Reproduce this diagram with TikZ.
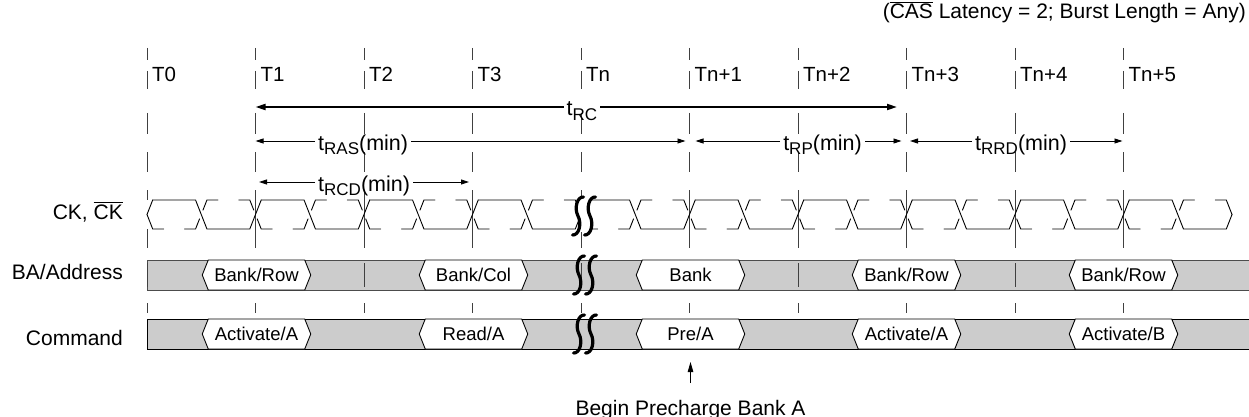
\documentclass[tikz,border=0pt]{standalone}
\usepackage{fontspec}
\setmainfont{Liberation Sans}
\usetikzlibrary{arrows.meta,calc}
\definecolor{barfill}{RGB}{204,204,204}
\newcommand\ovl[1]{\vbox{\hrule height 0.9pt\kern1.6pt\hbox{#1}}}
\newcommand\tsub[1]{t\raisebox{-4.5pt}{\fontsize{17}{17}\selectfont #1}}
\newcommand\sigbox[5]{%
  \filldraw[fill=white,draw=black,line width=0.9pt]
    ({#1-54.25},{(#2+#3)/2}) -- ({#1-48.25},#2) -- ({#1+48.25},#2) --
    ({#1+54.25},{(#2+#3)/2}) -- ({#1+48.25},#3) -- ({#1-48.25},#3) -- cycle;
  \node[boxlabel,anchor=base] (#4) at (#1,{(#2+#3)/2+6.5}) {#5};}
\newcommand\squig[3]{%
  \draw[brk] ({#1+5.5},#2) .. controls ({#1-1},{#2-0.5}) and ({#1-4},{#2+0.3*(#3-#2)}) ..
    (#1,{(#2+#3)/2}) .. controls ({#1+4},{#3-0.3*(#3-#2)}) and ({#1+1},{#3+0.5}) .. ({#1-5.5},#3);}
\begin{document}
\begin{tikzpicture}[x=1pt,y=-1pt,
  tl/.style={draw=black!75,line width=0.8pt},
  ck/.style={line width=0.9pt,line cap=round,line join=round},
  arr/.style={-{Triangle[length=8pt,width=5pt]},line width=0.9pt},
  arrb/.style={-{Triangle[length=10pt,width=6pt]},line width=2pt},
  brk/.style={line width=3.2pt,line cap=round},
  lab/.style={font=\fontsize{21.5}{25}\selectfont,inner xsep=3pt,inner ysep=0pt},
  side/.style={font=\fontsize{21}{25}\selectfont,inner sep=0pt,anchor=base east},
  tlab/.style={font=\fontsize{20.5}{24}\selectfont,inner sep=0pt,anchor=base west},
  boxlabel/.style={font=\fontsize{18.5}{22}\selectfont,inner sep=0pt}]
\useasboundingbox (0,0) rectangle (1249,417);
\foreach \k in {0,...,10} \coordinate (T\k) at ({147+108.5*\k},0);
\coordinate (rRC) at (0,107);
\coordinate (rRAS) at (0,141);
\coordinate (rRCD) at (0,182);

% bars
\filldraw[fill=barfill,draw=black!70,line width=0.9pt] (147,260) rectangle (1253,290);
\filldraw[fill=barfill,draw=black,line width=0.9pt] (147,319) rectangle (1253,349);

% time lines
\foreach \k [evaluate=\k as \xx using 147+108.5*\k] in {0,...,9}{
  \foreach \a/\b in {48/60,71/89,113/134,152/172,263/287,303/313}
    \draw[tl] (\xx,\a) -- (\xx,\b);
}
\foreach \k [evaluate=\k as \xx using 147+108.5*\k] in {1,...,9}
  \draw[tl] (\xx,190) -- (\xx,248);
\draw[tl] (147,190) -- (147,200);
\draw[tl] (147,229) -- (147,248);

% boxes
\sigbox{256.5}{260}{290}{b1}{Bank/Row}
\sigbox{473.5}{260}{290}{b2}{Bank/Col}
\sigbox{690.5}{260}{290}{b3}{Bank}
\sigbox{906.5}{260}{290}{b4}{Bank/Row}
\sigbox{1123.5}{260}{290}{b5}{Bank/Row}
\sigbox{256.5}{319}{349}{c1}{Activate/A}
\sigbox{473.5}{319}{349}{c2}{Read/A}
\sigbox{690.5}{319}{349}{c3}{Pre/A}
\sigbox{906.5}{319}{349}{c4}{Activate/A}
\sigbox{1123.5}{319}{349}{c5}{Activate/B}

% clock
\draw[ck] (147,214.5) -- (152.7,200);
\draw[ck] (147,214.5) -- (152.7,229) -- (163.7,229);
\foreach \k [evaluate=\k as \a using 147+108.5*\k] in {0,...,9}{
  \pgfmathsetmacro\b{\a+54.25}
  \pgfmathsetmacro\c{\a+108.5}
  \ifnum\k<9
    \draw[ck] (\a+5.7,200) -- (\b-5.7,200) -- (\b+5.7,229) -- (\c-5.7,229) -- (\c+5.7,200);
    \draw[ck] (\c-16.7,200) -- (\c-5.7,200) -- (\c-1.71,210.15);
    \draw[ck] (\c+1.71,218.85) -- (\c+5.7,229) -- (\c+16.7,229);
  \else
    \draw[ck] (\a+5.7,200) -- (\b-5.7,200) -- (\b+5.7,229) -- (\c-5.7,229) -- (\c,214.5);
    \draw[ck] (\c-16.7,200) -- (\c-5.7,200) -- (\c,214.5);
  \fi
  \draw[ck] (\b-16.7,229) -- (\b-5.7,229) -- (\b-1.71,218.85);
  \draw[ck] (\b+1.71,210.15) -- (\b+5.7,200) -- (\b+16.7,200);
}

% break
\fill[white] (578,197) rectangle (590,232);
\squig{578}{197}{235}\squig{590}{197}{235}
\squig{579}{256}{294}\squig{591}{256}{294}
\squig{579}{315}{353}\squig{591}{315}{353}

% timing arrows
\node[lab,anchor=base] (lRC) at (582,116) {\tsub{RC}};
\draw[arrb] (lRC.west |- rRC) -- (T1 |- rRC);
\draw[arrb] (lRC.east |- rRC) -- ($(T7 |- rRC)+(-9.5,0)$);

\node[lab,anchor=base west] (lRAS) at (315,150) {\tsub{RAS}(min)};
\draw[arr] (lRAS.west |- rRAS) -- (T1 |- rRAS);
\draw[arr] (lRAS.east |- rRAS) -- ($(T5 |- rRAS)+(-4,0)$);

\node[lab,anchor=base west] (lRCD) at (315,191) {\tsub{RCD}(min)};
\draw[arr] (lRCD.west |- rRCD) -- ($(T1 |- rRCD)+(3.5,0)$);
\draw[arr] (lRCD.east |- rRCD) -- ($(T3 |- rRCD)+(-3.5,0)$);

\node[lab,anchor=base east] (lRP) at (865,150) {\tsub{RP}(min)};
\draw[arr] (lRP.west |- rRAS) -- ($(T5 |- rRAS)+(6,0)$);
\draw[arr] (lRP.east |- rRAS) -- ($(T7 |- rRAS)+(-5,0)$);

\node[lab,anchor=base west] (lRRD) at (972,150) {\tsub{RRD}(min)};
\draw[arr] (lRRD.west |- rRAS) -- ($(T7 |- rRAS)+(3.5,0)$);
\draw[arr] (lRRD.east |- rRAS) -- ($(T9 |- rRAS)+(-1,0)$);

% time labels
\foreach \k/\t in {0/T0,1/T1,2/T2,3/T3,4/Tn,5/Tn+1,6/Tn+2,7/Tn+3,8/Tn+4,9/Tn+5}
  \node[tlab] (tl\k) at ({147+108.5*\k+5},82) {\t};

% signal names
\node[side] (sCK) at (123,219.5) {CK, \ovl{CK}};
\node[side] (sBA) at (123,279.5) {BA/Address};
\node[side] (sCmd) at (123,345) {Command};

% caption
\node[side] (cap) at (1246,19) {(\ovl{CAS} Latency = 2; Burst Length = Any)};

% begin precharge
\coordinate (bpfoot) at (690.5,383);
\coordinate (bptip) at (690.5,362);
\draw[-{Triangle[length=10pt,width=5.5pt]},line width=0.9pt] (bpfoot) -- (bptip);
\node[font=\fontsize{21}{25}\selectfont,inner sep=0pt,anchor=base] (bp) at (690.5,415) {Begin Precharge Bank A};
\end{tikzpicture}
\end{document}
